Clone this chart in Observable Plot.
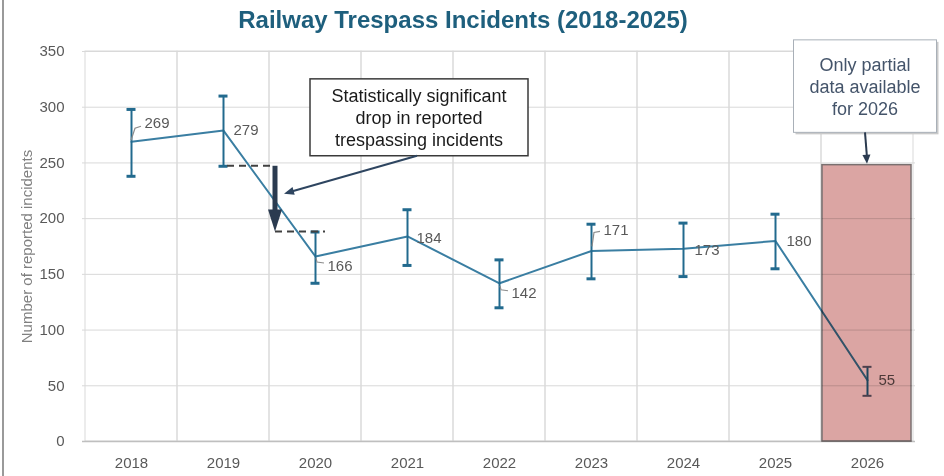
<!DOCTYPE html>
<html>
<head>
<meta charset="utf-8">
<script src="https://cdn.jsdelivr.net/npm/d3@7"></script>
<script src="https://cdn.jsdelivr.net/npm/@observablehq/plot@0.6"></script>
<style>
  body { margin: 0; background: #fff; }
  #wrap { position: relative; width: 944px; height: 476px; overflow: hidden; background: #fff; }
  #edge { position: absolute; left: 2px; top: 0; width: 2px; height: 476px; background: #9a9a9a; }
  #title {
    position: absolute; left: 0; top: 6px; width: 926px; text-align: center;
    font: bold 24px "Liberation Sans Narrow", "Liberation Sans", Arial, sans-serif;
    color: #1e5f7d; white-space: nowrap;
  }
  #chart { position: absolute; left: 0; top: 0; }
</style>
</head>
<body>
<div id="wrap">
  <div id="chart"></div>
  <div id="title">Railway Trespass Incidents (2018-2025)</div>
  <div id="edge"></div>
</div>
<script>
// Reported trespass incidents per year, with the interval shown by the error bars
const years     = ["2018", "2019", "2020", "2021", "2022", "2023", "2024", "2025", "2026"];
const incidents = [269, 279, 166, 184, 142, 171, 173, 180, 55];
const lower     = [238, 247, 142, 158, 120, 146, 148, 155, 41];
const upper     = [298, 310, 188, 208, 163, 195, 196, 204, 67];
const yTicks    = [0, 50, 100, 150, 200, 250, 300, 350];

// The incomplete year is shaded up to this level
const partialYear  = "2026";
const partialLevel = 248;

// Years whose intervals do not overlap
const dropFrom = "2019";
const dropTo   = "2020";

const dropNote    = ["Statistically significant", "drop in reported", "trespassing incidents"];
const partialNote = ["Only partial", "data available", "for 2026"];

const rows = years.map((year, i) => ({year, value: incidents[i], lo: lower[i], hi: upper[i]}));

// Pixel nudges for the value labels and their short leader strokes
const labelNudge = {
  "2018": [13, -19], "2019": [10, 0], "2020": [12, 10], "2021": [9, 2], "2022": [12, 10],
  "2023": [12, -21], "2024": [11, 1], "2025": [11, 0], "2026": [11, 0]
};
const leaderPath = {
  "2018": [[0, -1], [4, -13], [10, -15]],
  "2020": [[1, 2], [2, 6], [9, 7]],
  "2022": [[1, 3], [2, 7], [9, 8]],
  "2023": [[1, -4], [3, -18], [9, -19]]
};

const lineBlue = "#3a7ea2";
const barBlue  = "#226a8e";
const navy     = "#2b3b50";
const font     = "'Liberation Sans', Arial, sans-serif";

function bandCenter(x, yr) {
  const bw = x(years[1]) - x(years[0]);
  return x(yr) + bw / 2;
}

function triangle(g, x1, y1, x2, y2, len, wid, color) {
  const a = Math.atan2(y2 - y1, x2 - x1);
  const bx = x2 - len * Math.cos(a), by = y2 - len * Math.sin(a);
  const px = -Math.sin(a) * wid / 2, py = Math.cos(a) * wid / 2;
  g.append("path")
    .attr("d", `M${x2},${y2}L${bx + px},${by + py}L${bx - px},${by - py}Z`)
    .attr("fill", color);
}

// Leader strokes from points to their labels
function leaders(index, {x, y}) {
  const g = d3.create("svg:g").attr("fill", "none").attr("stroke", "#8c8c8c").attr("stroke-width", 1.2);
  rows.forEach(r => {
    const p = leaderPath[r.year];
    if (!p) return;
    const cx = bandCenter(x, r.year), cy = y(r.value);
    g.append("path").attr("d", "M" + p.map(([dx, dy]) => `${cx + dx},${cy + dy}`).join("L"));
  });
  return g.node();
}

// Significance marker between the two years, plus its callout
function dropAnnotation(index, {x, y}) {
  const g = d3.create("svg:g");
  const iA = years.indexOf(dropFrom), iB = years.indexOf(dropTo);
  const ax = x(dropTo) + 6;
  const yTop = y(lower[iA]), yBot = y(upper[iB]);

  g.append("line")
    .attr("x1", bandCenter(x, dropFrom) + 4).attr("x2", ax - 2)
    .attr("y1", yTop).attr("y2", yTop)
    .attr("stroke", "#404040").attr("stroke-width", 2).attr("stroke-dasharray", "7,5");
  g.append("line")
    .attr("x1", ax).attr("x2", bandCenter(x, dropTo) + 10)
    .attr("y1", yBot).attr("y2", yBot)
    .attr("stroke", "#404040").attr("stroke-width", 2).attr("stroke-dasharray", "7,5");

  g.append("line")
    .attr("x1", ax).attr("x2", ax).attr("y1", yTop).attr("y2", yBot - 20)
    .attr("stroke", navy).attr("stroke-width", 5);
  triangle(g, ax, yTop, ax, yBot, 22, 14, navy);

  // callout box
  const bx = bandCenter(x, "2021") + 12, bw = 218;
  const top = y(325), bottom = y(256);
  g.append("rect")
    .attr("x", bx - bw / 2).attr("y", top).attr("width", bw).attr("height", bottom - top)
    .attr("fill", "#fff").attr("stroke", "#3a3a3a").attr("stroke-width", 1.5);
  dropNote.forEach((t, i) => {
    g.append("text").attr("x", bx).attr("y", top + 17 + i * 22)
      .attr("text-anchor", "middle").attr("dy", "0.35em")
      .attr("font-family", font).attr("font-size", 18).attr("fill", "#1a1a1a").text(t);
  });

  // pointer from the callout to the marker
  const sx = bandCenter(x, "2021") + 10, sy = bottom;
  const ex = ax + 9, ey = y(222);
  const back = Math.atan2(sy - ey, sx - ex);
  g.append("line").attr("x1", sx).attr("y1", sy)
    .attr("x2", ex + 6 * Math.cos(back)).attr("y2", ey + 6 * Math.sin(back))
    .attr("stroke", "#2e4560").attr("stroke-width", 2);
  triangle(g, sx, sy, ex, ey, 10, 8, "#2e4560");
  return g.node();
}

// Callout for the incomplete year
function partialAnnotation(index, {x, y}) {
  const g = d3.create("svg:g");
  const cx = bandCenter(x, partialYear);
  const bx = cx - 2, bw = 143;
  const top = y(360), bottom = y(277);
  g.append("rect")
    .attr("x", bx - bw / 2 + 2).attr("y", top + 2).attr("width", bw).attr("height", bottom - top)
    .attr("fill", "#c9c9c9");
  g.append("rect")
    .attr("x", bx - bw / 2).attr("y", top).attr("width", bw).attr("height", bottom - top)
    .attr("fill", "#fff").attr("stroke", "#a9b0b8").attr("stroke-width", 1);
  partialNote.forEach((t, i) => {
    g.append("text").attr("x", bx).attr("y", top + 25 + i * 22)
      .attr("text-anchor", "middle").attr("dy", "0.35em")
      .attr("font-family", font).attr("font-size", 18).attr("fill", "#44546a").text(t);
  });
  const sy = bottom, ey = y(partialLevel) - 1;
  g.append("line").attr("x1", cx - 2).attr("y1", sy).attr("x2", cx).attr("y2", ey - 6)
    .attr("stroke", navy).attr("stroke-width", 2);
  triangle(g, cx - 2, sy, cx, ey, 9, 8, navy);
  return g.node();
}

const labelMarks = rows.map(r => Plot.text([r], {
  x: "year", y: "value", text: d => String(d.value),
  dx: labelNudge[r.year][0], dy: labelNudge[r.year][1],
  textAnchor: "start", fill: "#595959", fontSize: 15
}));

const chart = Plot.plot({
  width: 944,
  height: 476,
  marginLeft: 82,
  marginRight: 29,
  marginTop: 51,
  marginBottom: 35,
  style: {fontFamily: font, fontSize: "15px", color: "#595959", background: "transparent"},
  x: {type: "band", domain: years, padding: 0, tickSize: 0, tickPadding: 16, label: null},
  y: {domain: [0, 350], ticks: yTicks, tickSize: 0, tickPadding: 18, label: null},
  marks: [
    Plot.ruleY(yTicks, {stroke: "#d9d9d9", strokeWidth: 1}),
    Plot.barY(years, {x: d => d, y1: 0, y2: 350, fill: "none", stroke: "#d9d9d9", strokeWidth: 1}),
    Plot.ruleY([0], {stroke: "#bfbfbf", strokeWidth: 1.5}),
    Plot.text(["Number of reported incidents"], {
      frameAnchor: "left", dx: -55, rotate: -90, textAnchor: "middle",
      fill: "#808080", fontSize: 15
    }),
    Plot.lineY(rows, {x: "year", y: "value", stroke: lineBlue, strokeWidth: 2}),
    Plot.ruleX(rows, {x: "year", y1: "lo", y2: "hi", stroke: barBlue, strokeWidth: 2}),
    Plot.tickY(rows.filter(r => r.year !== partialYear), {
      x: "year", y: "lo", stroke: barBlue, strokeWidth: 3, insetLeft: 41.5, insetRight: 41.5
    }),
    Plot.tickY(rows.filter(r => r.year !== partialYear), {
      x: "year", y: "hi", stroke: barBlue, strokeWidth: 3, insetLeft: 41.5, insetRight: 41.5
    }),
    Plot.tickY(rows.filter(r => r.year === partialYear), {
      x: "year", y: "lo", stroke: "#5a6378", strokeWidth: 2, insetLeft: 41.5, insetRight: 41.5
    }),
    Plot.tickY(rows.filter(r => r.year === partialYear), {
      x: "year", y: "hi", stroke: "#5a6378", strokeWidth: 2, insetLeft: 41.5, insetRight: 41.5
    }),
    ...labelMarks,
    leaders,
    Plot.barY([partialYear], {
      x: d => d, y1: 0, y2: partialLevel,
      fill: "#dba5a3", stroke: "#7a7070", strokeWidth: 1.5,
      insetLeft: 1, insetRight: 2, mixBlendMode: "multiply", ariaLabel: "partial-year"
    }),
    dropAnnotation,
    partialAnnotation
  ]
});

d3.select(chart).selectAll("[aria-label='partial-year']").style("mix-blend-mode", "multiply");
document.getElementById("chart").appendChild(chart);
</script>
</body>
</html>
